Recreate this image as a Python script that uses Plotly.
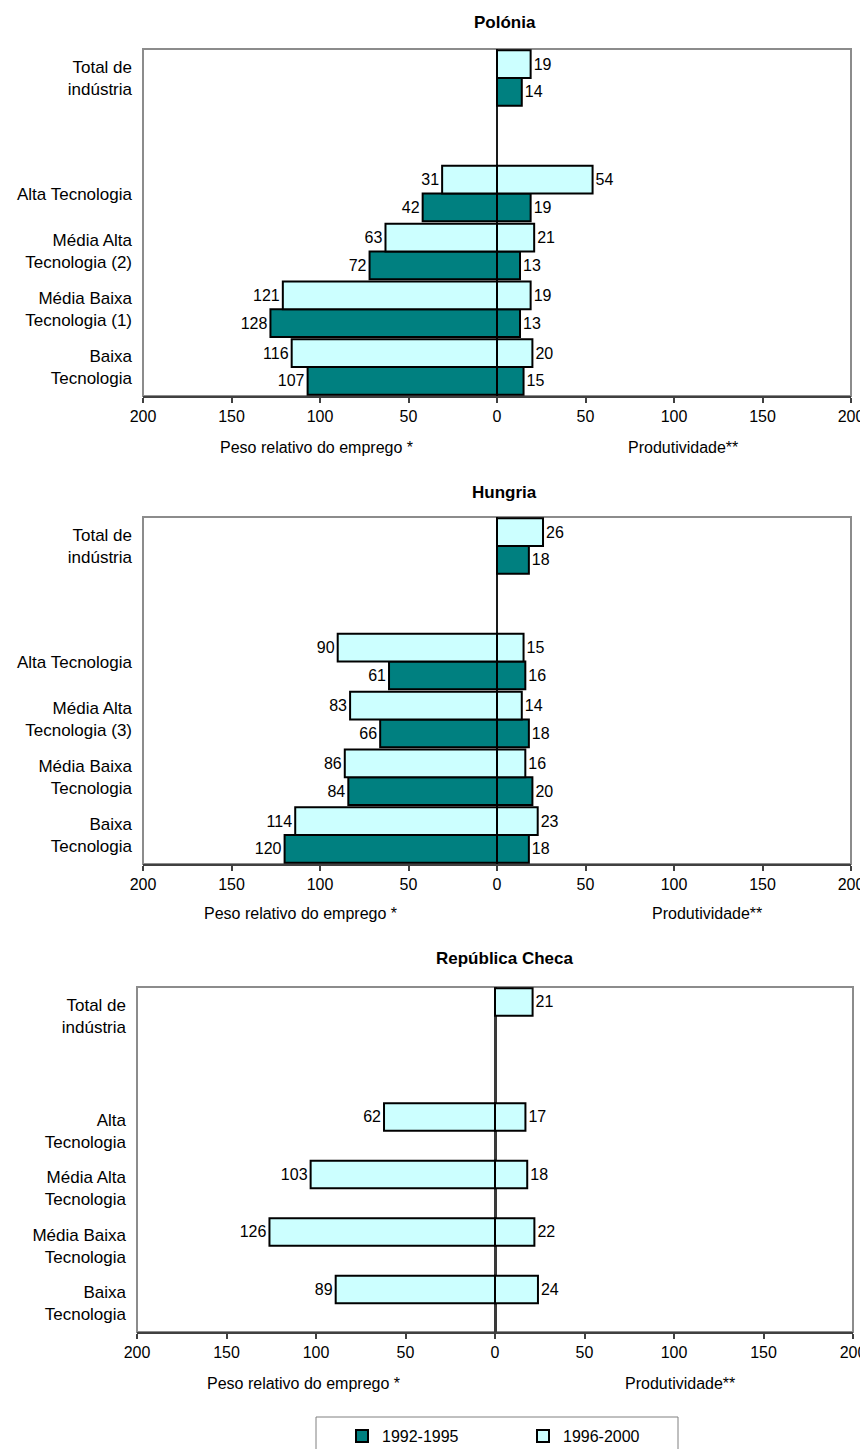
import plotly.graph_objects as go

# The page body adds an 8px margin, so the figure is offset by OFF px.
OFF = 8
W, H = 860, 1441

periods = ["1992-1995", "1996-2000"]
period_colors = {"1992-1995": "#008080", "1996-2000": "#CCFFFF"}

# ---- Polónia ----
cat_pl = ["Total de<br>indústria", " ", "Alta Tecnologia", "Média Alta<br>Tecnologia (2)",
          "Média Baixa<br>Tecnologia (1)", "Baixa<br>Tecnologia"]
pl_emp_9295 = [None, None, 42, 72, 128, 107]
pl_emp_9600 = [None, None, 31, 63, 121, 116]
pl_prod_9295 = [14, None, 19, 13, 13, 15]
pl_prod_9600 = [19, None, 54, 21, 19, 20]

# ---- Hungria ----
cat_hu = ["Total de<br>indústria", " ", "Alta Tecnologia", "Média Alta<br>Tecnologia (3)",
          "Média Baixa<br>Tecnologia", "Baixa<br>Tecnologia"]
hu_emp_9295 = [None, None, 61, 66, 84, 120]
hu_emp_9600 = [None, None, 90, 83, 86, 114]
hu_prod_9295 = [18, None, 16, 18, 20, 18]
hu_prod_9600 = [26, None, 15, 14, 16, 23]

# ---- República Checa ----
cat_cz = ["Total de<br>indústria", " ", "Alta<br>Tecnologia", "Média Alta<br>Tecnologia",
          "Média Baixa<br>Tecnologia", "Baixa<br>Tecnologia"]
cz_emp_9600 = [None, None, 62, 103, 126, 89]
cz_prod_9600 = [21, None, 17, 18, 22, 24]

tick_vals = [-200, -150, -100, -50, 0, 50, 100, 150, 200]
tick_text = ["200", "150", "100", "50", "0", "50", "100", "150", "200"]

FONT = "Liberation Sans, Arial, sans-serif"

fig = go.Figure()


def add_bars(values, cats, period, side, n, showlegend=False):
    sign = -1 if side == "emp" else 1
    x = [sign * v if v is not None else None for v in values]
    txt = [str(v) if v is not None else "" for v in values]
    offset = -0.48 if period == "1996-2000" else 0.0
    sfx = "" if n == 1 else str(n)
    fig.add_trace(go.Bar(
        x=x, y=cats, orientation="h", name=period,
        legendgroup=period, showlegend=showlegend,
        legendrank=periods.index(period) + 1,
        marker=dict(color=period_colors[period], line=dict(color="#000000", width=2)),
        width=0.48, offset=offset,
        text=txt, textposition="outside", cliponaxis=False, constraintext="none",
        textfont=dict(size=16, color="#000000", family=FONT),
        xaxis="x" + sfx, yaxis="y" + sfx, hoverinfo="skip",
    ))


add_bars(pl_emp_9295, cat_pl, "1992-1995", "emp", 1, True)
add_bars(pl_emp_9600, cat_pl, "1996-2000", "emp", 1, True)
add_bars(pl_prod_9295, cat_pl, "1992-1995", "prod", 1)
add_bars(pl_prod_9600, cat_pl, "1996-2000", "prod", 1)

add_bars(hu_emp_9295, cat_hu, "1992-1995", "emp", 2)
add_bars(hu_emp_9600, cat_hu, "1996-2000", "emp", 2)
add_bars(hu_prod_9295, cat_hu, "1992-1995", "prod", 2)
add_bars(hu_prod_9600, cat_hu, "1996-2000", "prod", 2)

add_bars(cz_emp_9600, cat_cz, "1996-2000", "emp", 3)
add_bars(cz_prod_9600, cat_cz, "1996-2000", "prod", 3)


def px_x(p):
    return (p - OFF) / W


def px_y(p):
    return 1 - (p - OFF) / H


def xaxis(dom, anchor, zw, zc):
    return dict(domain=dom, anchor=anchor, range=[-200, 200],
                tickmode="array", tickvals=tick_vals, ticktext=tick_text,
                showgrid=False, zeroline=True, zerolinecolor=zc, zerolinewidth=zw,
                showline=True, linecolor="#404040", linewidth=2,
                ticks="outside", ticklen=5, tickwidth=1.5, tickcolor="#404040",
                tickfont=dict(size=16, color="#000000", family=FONT), fixedrange=True)


def yaxis(dom, anchor, cats):
    return dict(domain=dom, anchor=anchor, type="category",
                categoryorder="array", categoryarray=cats, range=[5.5, -0.5],
                showgrid=False, zeroline=False, showline=False, ticks="",
                ticklabelstandoff=10,
                tickfont=dict(size=17, color="#000000", family=FONT), fixedrange=True)


panels = [
    # (suffix, x-domain px, y-domain px, zero line width, zero line colour, categories)
    ("", (143, 851), (49, 396), 1.5, "#1a1a1a", cat_pl),
    ("2", (143, 851), (517, 864), 1.5, "#1a1a1a", cat_hu),
    ("3", (137, 853), (987, 1332), 3, "#3a3a3a", cat_cz),
]

layout_axes = {}
shapes = []
for sfx, (xl, xr), (yt, yb), zw, zc, cats in panels:
    layout_axes["xaxis" + sfx] = xaxis([px_x(xl), px_x(xr)], "y" + sfx, zw, zc)
    layout_axes["yaxis" + sfx] = yaxis([px_y(yb), px_y(yt)], "x" + sfx, cats)
    shapes.append(dict(type="rect", xref="x" + sfx + " domain", yref="y" + sfx + " domain",
                       x0=0, x1=1, y0=0, y1=1, layer="below",
                       line=dict(color="#8c8c8c", width=2)))

# legend frame (runs off the bottom of the page, as in the reference)
shapes.append(dict(type="rect", xref="paper", yref="paper",
                   x0=px_x(316), x1=px_x(678), y0=px_y(1417), y1=px_y(1470),
                   line=dict(color="#808080", width=1), fillcolor="rgba(0,0,0,0)"))

annotations = []


def ann(text, x, y, size=16):
    annotations.append(dict(text=text, x=px_x(x), y=px_y(y), xref="paper", yref="paper",
                            xanchor="center", yanchor="middle", showarrow=False,
                            font=dict(size=size, color="#000000", family=FONT)))


ann("<b>Polónia</b>", 505, 23, 17)
ann("<b>Hungria</b>", 505, 492, 17)
ann("<b>República Checa</b>", 505, 958, 17)
ann("Peso relativo do emprego *", 316, 447)
ann("Peso relativo do emprego *", 300, 913)
ann("Peso relativo do emprego *", 303, 1383)
ann("Produtividade**", 683, 447)
ann("Produtividade**", 707, 913)
ann("Produtividade**", 680, 1383)

fig.update_layout(
    width=W, height=H,
    margin=dict(l=0, r=0, t=0, b=0, autoexpand=False),
    paper_bgcolor="#ffffff", plot_bgcolor="rgba(0,0,0,0)",
    font=dict(family=FONT, size=16, color="#000000"),
    barmode="overlay",
    showlegend=True,
    legend=dict(orientation="h", x=px_x(342), y=px_y(1436), xanchor="left", yanchor="middle",
                borderwidth=0, bgcolor="rgba(0,0,0,0)",
                font=dict(size=16, color="#000000", family=FONT),
                entrywidth=136, entrywidthmode="pixels", itemwidth=30,
                traceorder="normal", itemclick=False, itemdoubleclick=False),
    shapes=shapes, annotations=annotations,
    **layout_axes,
)

fig.write_html("out.html")
